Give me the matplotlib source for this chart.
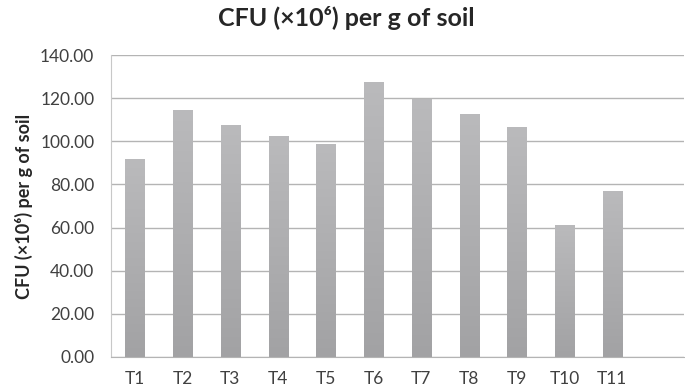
import numpy as np
import matplotlib.pyplot as plt
from matplotlib.colors import LinearSegmentedColormap

# valores
tratamentos = ['T1', 'T2', 'T3', 'T4', 'T5', 'T6', 'T7', 'T8', 'T9', 'T10', 'T11']
cfu = [91.6, 114.5, 107.6, 102.5, 98.7, 127.6, 119.8, 112.5, 106.6, 61.2, 77.0]
yticks = [0, 20, 40, 60, 80, 100, 120, 140]

plt.rcParams['font.family'] = ['Lato', 'DejaVu Sans']

fig = plt.figure(figsize=(6.85, 3.91), dpi=100)
ax = fig.add_axes([0.162, 0.087, 0.8365, 0.772])

x = np.arange(len(tratamentos))
barras = ax.bar(x, cfu, width=0.4, color='#b0b0b2', zorder=2)

# degrade vertical em cada barra
cmap = LinearSegmentedColormap.from_list('cinza', ['#a2a2a4', '#bababc'])
grad = np.linspace(0, 1, 256).reshape(-1, 1)
for b in barras:
    bx, by = b.get_x(), b.get_y()
    w, h = b.get_width(), b.get_height()
    im = ax.imshow(grad, cmap=cmap, origin='lower', aspect='auto',
                   extent=[bx, bx + w, by, by + h], zorder=3)
    im.set_clip_path(b)

ax.set_xlim(-0.5, 11.5)
ax.set_ylim(0, 140)
ax.set_yticks(yticks)
ax.set_yticklabels(['%.2f' % v for v in yticks])
ax.set_xticks(x)
ax.set_xticklabels(tratamentos)
ax.tick_params(length=0, labelsize=12.5, colors='#404040')
ax.tick_params(axis='y', pad=12)
ax.tick_params(axis='x', pad=10)
ax.grid(axis='y', color='#b4b4b4', linewidth=1, zorder=0)
for s in ['top', 'right']:
    ax.spines[s].set_visible(False)
ax.spines['left'].set_color('#c8c8c8')
ax.spines['bottom'].set_color('#b4b4b4')

ax.set_ylabel('CFU (×10⁶) per g of soil', fontsize=13, fontweight='bold', color='#262626', labelpad=5)
fig.suptitle('CFU (×10⁶) per g of soil', fontsize=18, fontweight='bold', color='#262626', x=0.505, y=0.985)

fig.savefig('out.png', dpi=100)
